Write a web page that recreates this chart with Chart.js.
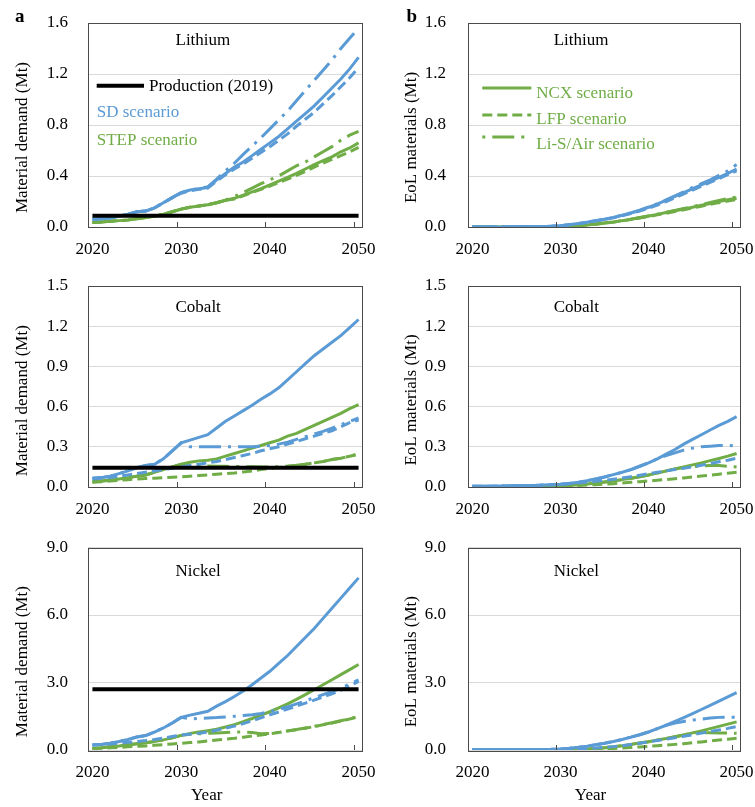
<!DOCTYPE html>
<html>
<head>
<meta charset="utf-8">
<script src="https://cdn.jsdelivr.net/npm/chart.js@4.4.1/dist/chart.umd.min.js"></script>
<style>
  html, body { margin: 0; padding: 0; background: #fff; }
  #fig { position: relative; width: 755px; height: 807px; overflow: hidden; }
  #fig canvas { position: absolute; }
</style>
</head>
<body>
<div id="fig">
  <canvas id="liDem" width="378" height="265" style="left:0;top:0"></canvas>
  <canvas id="liEoL" width="377" height="265" style="left:378px;top:0"></canvas>
  <canvas id="coDem" width="378" height="265" style="left:0;top:265px"></canvas>
  <canvas id="coEoL" width="377" height="265" style="left:378px;top:265px"></canvas>
  <canvas id="niDem" width="378" height="277" style="left:0;top:530px"></canvas>
  <canvas id="niEoL" width="377" height="277" style="left:378px;top:530px"></canvas>
</div>
<script>
// ---- categories and tick labels ----
const years = [2020,2021,2022,2023,2024,2025,2026,2027,2028,2029,2030,2031,2032,2033,2034,2035,
               2036,2037,2038,2039,2040,2041,2042,2043,2044,2045,2046,2047,2048,2049,2050];
const xTickYears = [2020, 2030, 2040, 2050];
const liTicks = [0, 0.4, 0.8, 1.2, 1.6];
const coTicks = [0, 0.3, 0.6, 0.9, 1.2, 1.5];
const niTicks = [0, 3, 6, 9];

// ---- 2019 primary production (Mt): Li, Co, Ni ----
const prod2019 = [0.088, 0.144, 2.70];

// ---- material demand (Mt), SD and STEP scenarios x NCX / LFP / Li-S/Air ----
const liDemSD_NCX   = [0.060,0.065,0.070,0.085,0.100,0.120,0.125,0.150,0.190,0.230,0.270,0.290,0.300,0.310,0.370,0.420,0.470,0.510,0.560,0.610,0.660,0.710,0.770,0.830,0.890,0.950,1.020,1.090,1.160,1.240,1.330];
const liDemSD_LFP   = [0.060,0.065,0.070,0.085,0.100,0.120,0.125,0.150,0.190,0.230,0.265,0.285,0.295,0.305,0.360,0.410,0.455,0.495,0.540,0.585,0.630,0.680,0.730,0.790,0.845,0.900,0.965,1.030,1.100,1.170,1.250];
const liDemSD_LiS   = [0.060,0.065,0.070,0.085,0.100,0.120,0.125,0.150,0.190,0.230,0.270,0.290,0.300,0.315,0.375,0.440,0.500,0.570,0.635,0.700,0.770,0.840,0.910,0.990,1.070,1.150,1.230,1.310,1.400,1.480,1.560];
const liDemSTEP_NCX = [0.035,0.040,0.045,0.050,0.055,0.065,0.075,0.085,0.100,0.120,0.140,0.155,0.165,0.175,0.190,0.210,0.225,0.250,0.275,0.300,0.330,0.360,0.390,0.420,0.455,0.490,0.520,0.550,0.590,0.620,0.660];
const liDemSTEP_LFP = [0.035,0.040,0.045,0.050,0.055,0.065,0.075,0.085,0.100,0.120,0.140,0.155,0.165,0.175,0.190,0.210,0.220,0.245,0.270,0.295,0.320,0.350,0.375,0.405,0.435,0.470,0.500,0.530,0.560,0.590,0.625];
const liDemSTEP_LiS = [0.035,0.040,0.045,0.050,0.055,0.065,0.075,0.085,0.100,0.120,0.140,0.155,0.165,0.175,0.190,0.210,0.240,0.270,0.305,0.340,0.370,0.400,0.440,0.480,0.510,0.550,0.590,0.630,0.680,0.720,0.750];

const coDemSD_NCX   = [0.065,0.070,0.080,0.100,0.120,0.145,0.160,0.170,0.210,0.270,0.330,0.350,0.370,0.390,0.440,0.490,0.530,0.570,0.610,0.655,0.695,0.740,0.800,0.860,0.920,0.980,1.030,1.080,1.130,1.190,1.250];
const coDemSD_LFP   = [0.060,0.065,0.070,0.080,0.090,0.100,0.110,0.120,0.130,0.140,0.150,0.160,0.170,0.180,0.190,0.205,0.220,0.235,0.250,0.270,0.285,0.300,0.320,0.340,0.360,0.380,0.400,0.420,0.450,0.480,0.500];
const coDemSD_LiS   = [0.065,0.070,0.080,0.100,0.120,0.145,0.160,0.170,0.210,0.270,0.330,0.300,0.300,0.300,0.300,0.300,0.300,0.300,0.300,0.305,0.310,0.320,0.335,0.355,0.375,0.395,0.415,0.440,0.465,0.490,0.515];
const coDemSTEP_NCX = [0.040,0.045,0.050,0.060,0.070,0.080,0.090,0.110,0.130,0.150,0.170,0.185,0.195,0.200,0.210,0.230,0.250,0.270,0.290,0.310,0.330,0.350,0.380,0.400,0.430,0.460,0.490,0.520,0.550,0.585,0.615];
const coDemSTEP_LFP = [0.035,0.040,0.045,0.050,0.055,0.060,0.063,0.066,0.070,0.073,0.076,0.080,0.085,0.090,0.095,0.100,0.105,0.112,0.120,0.130,0.140,0.145,0.150,0.160,0.170,0.180,0.190,0.205,0.215,0.230,0.245];
const coDemSTEP_LiS = [0.040,0.045,0.050,0.060,0.070,0.080,0.090,0.110,0.130,0.150,0.170,0.160,0.158,0.156,0.155,0.154,0.153,0.152,0.151,0.150,0.150,0.152,0.156,0.162,0.170,0.180,0.190,0.205,0.215,0.230,0.245];

const niDemSD_NCX   = [0.22,0.25,0.30,0.38,0.47,0.58,0.64,0.80,0.98,1.20,1.45,1.55,1.63,1.72,1.95,2.15,2.38,2.62,2.90,3.20,3.50,3.85,4.20,4.60,5.00,5.40,5.85,6.30,6.75,7.20,7.65];
const niDemSD_LFP   = [0.22,0.24,0.27,0.30,0.34,0.38,0.42,0.47,0.53,0.60,0.66,0.70,0.74,0.80,0.88,0.97,1.06,1.17,1.30,1.43,1.56,1.69,1.82,1.95,2.08,2.22,2.36,2.50,2.66,2.84,3.05];
const niDemSD_LiS   = [0.22,0.25,0.30,0.38,0.47,0.58,0.64,0.80,0.98,1.20,1.45,1.38,1.40,1.42,1.44,1.47,1.50,1.53,1.57,1.62,1.70,1.80,1.92,2.05,2.18,2.32,2.46,2.60,2.76,2.93,3.12];
const niDemSTEP_NCX = [0.07,0.10,0.14,0.18,0.23,0.28,0.32,0.38,0.45,0.54,0.65,0.74,0.80,0.86,0.92,1.02,1.13,1.26,1.40,1.55,1.70,1.87,2.05,2.25,2.46,2.68,2.90,3.12,3.35,3.57,3.80];
const niDemSTEP_LFP = [0.07,0.08,0.10,0.12,0.14,0.16,0.18,0.21,0.24,0.27,0.30,0.33,0.36,0.40,0.44,0.48,0.52,0.57,0.62,0.67,0.72,0.78,0.84,0.90,0.97,1.04,1.12,1.20,1.29,1.38,1.48];
const niDemSTEP_LiS = [0.07,0.10,0.14,0.18,0.23,0.28,0.32,0.38,0.45,0.54,0.65,0.70,0.72,0.74,0.76,0.78,0.80,0.80,0.78,0.72,0.74,0.79,0.85,0.91,0.98,1.05,1.13,1.21,1.30,1.39,1.49];

// ---- end-of-life materials (Mt) ----
const liEoLSD_NCX   = [0.000,0.000,0.000,0.000,0.001,0.001,0.002,0.003,0.004,0.006,0.010,0.018,0.027,0.038,0.050,0.060,0.075,0.092,0.110,0.130,0.155,0.180,0.210,0.240,0.270,0.300,0.330,0.360,0.390,0.420,0.455];
const liEoLSD_LFP   = [0.000,0.000,0.000,0.000,0.001,0.001,0.002,0.003,0.004,0.006,0.010,0.017,0.026,0.036,0.047,0.058,0.072,0.088,0.105,0.125,0.148,0.172,0.200,0.230,0.260,0.290,0.320,0.350,0.380,0.410,0.440];
const liEoLSD_LiS   = [0.000,0.000,0.000,0.000,0.001,0.001,0.002,0.003,0.004,0.006,0.010,0.018,0.027,0.038,0.050,0.061,0.076,0.093,0.111,0.132,0.157,0.183,0.213,0.244,0.276,0.310,0.340,0.370,0.405,0.440,0.490];
const liEoLSTEP_NCX = [0.000,0.000,0.000,0.000,0.000,0.001,0.001,0.001,0.002,0.002,0.003,0.006,0.010,0.016,0.023,0.031,0.040,0.050,0.061,0.073,0.086,0.099,0.113,0.127,0.141,0.155,0.170,0.185,0.200,0.213,0.225];
const liEoLSTEP_LFP = [0.000,0.000,0.000,0.000,0.000,0.001,0.001,0.001,0.002,0.002,0.003,0.006,0.010,0.015,0.022,0.030,0.038,0.048,0.058,0.070,0.082,0.095,0.108,0.121,0.135,0.149,0.163,0.177,0.191,0.203,0.215];
const liEoLSTEP_LiS = [0.000,0.000,0.000,0.000,0.000,0.001,0.001,0.001,0.002,0.002,0.003,0.006,0.010,0.016,0.023,0.031,0.040,0.050,0.061,0.074,0.087,0.101,0.115,0.130,0.145,0.160,0.176,0.192,0.208,0.222,0.235];

const coEoLSD_NCX   = [0.005,0.005,0.006,0.007,0.008,0.009,0.010,0.012,0.014,0.017,0.020,0.026,0.035,0.046,0.060,0.075,0.092,0.110,0.130,0.155,0.180,0.210,0.245,0.280,0.320,0.355,0.390,0.425,0.460,0.490,0.525];
const coEoLSD_LFP   = [0.005,0.005,0.006,0.007,0.008,0.009,0.010,0.012,0.014,0.017,0.020,0.025,0.030,0.036,0.043,0.050,0.058,0.067,0.077,0.088,0.100,0.110,0.120,0.130,0.140,0.150,0.162,0.175,0.188,0.200,0.215];
const coEoLSD_LiS   = [0.005,0.005,0.006,0.007,0.008,0.009,0.010,0.012,0.014,0.017,0.020,0.026,0.035,0.046,0.060,0.075,0.092,0.110,0.130,0.155,0.180,0.210,0.235,0.255,0.275,0.290,0.300,0.305,0.310,0.310,0.305];
const coEoLSTEP_NCX = [0.003,0.003,0.004,0.004,0.005,0.005,0.006,0.006,0.007,0.007,0.008,0.012,0.017,0.023,0.030,0.037,0.045,0.055,0.065,0.077,0.090,0.105,0.120,0.135,0.150,0.165,0.180,0.197,0.213,0.230,0.250];
const coEoLSTEP_LFP = [0.003,0.003,0.004,0.004,0.005,0.005,0.005,0.006,0.006,0.006,0.006,0.008,0.011,0.014,0.017,0.021,0.025,0.030,0.035,0.040,0.045,0.050,0.056,0.062,0.068,0.075,0.082,0.089,0.096,0.103,0.110];
const coEoLSTEP_LiS = [0.003,0.003,0.004,0.004,0.005,0.005,0.006,0.006,0.007,0.007,0.008,0.012,0.017,0.023,0.030,0.037,0.045,0.055,0.065,0.077,0.090,0.105,0.120,0.135,0.145,0.152,0.157,0.160,0.160,0.155,0.150];

const niEoLSD_NCX   = [0.02,0.02,0.02,0.02,0.02,0.02,0.02,0.02,0.02,0.03,0.05,0.08,0.12,0.17,0.23,0.30,0.38,0.47,0.57,0.68,0.80,0.95,1.10,1.27,1.44,1.62,1.80,1.98,2.17,2.36,2.55];
const niEoLSD_LFP   = [0.02,0.02,0.02,0.02,0.02,0.02,0.02,0.02,0.02,0.02,0.03,0.04,0.05,0.07,0.09,0.12,0.15,0.19,0.24,0.30,0.36,0.42,0.48,0.54,0.61,0.68,0.75,0.82,0.89,0.96,1.04];
const niEoLSD_LiS   = [0.02,0.02,0.02,0.02,0.02,0.02,0.02,0.02,0.02,0.03,0.05,0.08,0.12,0.17,0.23,0.30,0.38,0.47,0.57,0.68,0.80,0.95,1.10,1.20,1.27,1.33,1.37,1.42,1.45,1.46,1.45];
const niEoLSTEP_NCX = [0.01,0.01,0.01,0.01,0.01,0.01,0.01,0.01,0.01,0.01,0.01,0.02,0.035,0.05,0.07,0.10,0.14,0.19,0.25,0.31,0.37,0.44,0.51,0.59,0.67,0.76,0.85,0.95,1.05,1.15,1.25];
const niEoLSTEP_LFP = [0.01,0.01,0.01,0.01,0.01,0.01,0.01,0.01,0.01,0.01,0.01,0.015,0.02,0.03,0.04,0.055,0.07,0.09,0.11,0.135,0.16,0.19,0.22,0.25,0.28,0.32,0.36,0.40,0.44,0.48,0.52];
const niEoLSTEP_LiS = [0.01,0.01,0.01,0.01,0.01,0.01,0.01,0.01,0.01,0.01,0.01,0.02,0.035,0.05,0.07,0.10,0.14,0.19,0.25,0.31,0.37,0.44,0.51,0.59,0.67,0.76,0.77,0.77,0.76,0.75,0.74];

// ---- styling ----
const BLUE = '#5B9BD5', GREEN = '#70AD47', BLACK = '#000000';
const SOLID = [], DASH = [10, 5], DASHDOT = [22, 7, 3, 7];
const FONT = '"Liberation Serif", "Times New Roman", serif';
Chart.defaults.font.family = FONT;
Chart.defaults.font.size = 17;
Chart.defaults.color = '#000';

function line(label, data, color, dash, width) {
  return { label, data, borderColor: color, backgroundColor: color, borderWidth: width || 3,
           borderDash: dash, pointRadius: 0, fill: false, tension: 0 };
}

// frame, inner tick marks and all panel text
function decorPlugin(p) {
  return {
    id: 'decor',
    afterDraw(chart) {
      const ctx = chart.ctx, a = chart.chartArea, xs = chart.scales.x;
      const half = (xs.getPixelForValue(1) - xs.getPixelForValue(0)) / 2;
      ctx.save();
      ctx.strokeStyle = '#4a4a4a';
      ctx.lineWidth = 1;
      xTickYears.forEach(yr => {
        const i = years.indexOf(yr);
        if (i <= 0) return;
        const px = Math.round(xs.getPixelForValue(i) - half) + 0.5;
        ctx.beginPath(); ctx.moveTo(px, a.bottom); ctx.lineTo(px, a.bottom - 5); ctx.stroke();
      });
      ctx.strokeRect(Math.round(a.left) + 0.5, Math.round(a.top) + 0.5,
                     Math.round(a.right - a.left) - 1, Math.round(a.bottom - a.top));

      ctx.fillStyle = '#000';
      ctx.textBaseline = 'alphabetic';
      ctx.font = '17px ' + FONT;
      ctx.textAlign = 'left';
      ctx.fillText(p.name, p.nameX, p.nameY);

      // rotated axis title
      ctx.save();
      ctx.translate(p.yTitleX, p.yTitleY);
      ctx.rotate(-Math.PI / 2);
      ctx.textAlign = 'center';
      ctx.fillText(p.yTitle, 0, 0);
      ctx.restore();

      if (p.xTitle) {
        ctx.textAlign = 'center';
        ctx.fillText(p.xTitle, p.xTitleX, p.xTitleY);
      }
      if (p.letter) {
        ctx.textAlign = 'left';
        ctx.font = 'bold 19px ' + FONT;
        ctx.fillText(p.letter, p.letterX, 21.5);
        ctx.font = '17px ' + FONT;
      }
      if (p.legend) {
        ctx.textAlign = 'left';
        p.legend.forEach(item => {
          if (item.line) {
            ctx.save();
            ctx.strokeStyle = item.line.color;
            ctx.lineWidth = item.line.width;
            ctx.setLineDash(item.line.dash);
            ctx.beginPath();
            ctx.moveTo(item.line.x0, item.line.y); ctx.lineTo(item.line.x1, item.line.y);
            ctx.stroke();
            ctx.restore();
          }
          ctx.fillStyle = item.color;
          ctx.fillText(item.text, item.x, item.y);
        });
      }
      ctx.restore();
    }
  };
}

function makePanel(p) {
  const ds = [];
  if (p.prod !== undefined) ds.push(line('Production (2019)', years.map(() => p.prod), BLACK, SOLID, 4));
  ds.push(line('SD NCX', p.sd[0], BLUE, SOLID));
  ds.push(line('SD LFP', p.sd[1], BLUE, DASH));
  ds.push(line('SD Li-S/Air', p.sd[2], BLUE, DASHDOT));
  ds.push(line('STEP NCX', p.step[0], GREEN, SOLID));
  ds.push(line('STEP LFP', p.step[1], GREEN, DASH));
  ds.push(line('STEP Li-S/Air', p.step[2], GREEN, DASHDOT));

  new Chart(document.getElementById(p.id), {
    type: 'line',
    data: { labels: years.map(String), datasets: ds },
    options: {
      responsive: false, animation: false, events: [],
      layout: { padding: { left: 0, top: p.padTop, right: p.padRight, bottom: p.padBottom } },
      plugins: { legend: { display: false }, tooltip: { enabled: false } },
      scales: {
        x: {
          type: 'category', offset: true,
          grid: { display: false, drawTicks: false }, border: { display: false },
          ticks: {
            autoSkip: false, maxRotation: 0, minRotation: 0, padding: 12, color: '#000',
            callback: (v, i) => xTickYears.includes(years[i]) ? String(years[i]) : ''
          },
          afterFit: s => { s.height = 30; s.paddingLeft = 0; s.paddingRight = 0; }
        },
        y: {
          min: 0, max: p.ticks[p.ticks.length - 1],
          grid: { color: '#d9d9d9', lineWidth: 1, drawTicks: false }, border: { display: false },
          ticks: { padding: p.yPad, color: '#000', callback: v => Number(v).toFixed(1) },
          afterBuildTicks: s => { s.ticks = p.ticks.map(v => ({ value: v })); },
          afterFit: s => { s.width = p.yW; s.paddingTop = 0; s.paddingBottom = 0; }
        }
      }
    },
    plugins: [decorPlugin(p)]
  });
}

const leftCol  = { yW: 88, padRight: 15, yPad: 20, nameX: 175.5, yTitleX: 26.5, yTitle: 'Material demand (Mt)', xTitleX: 206.7 };
const rightCol = { yW: 90, padRight: 14, yPad: 22, nameX: 175.7, yTitleX: 37.9, yTitle: 'EoL materials (Mt)', xTitleX: 212.5 };

makePanel(Object.assign({}, leftCol, {
  id: 'liDem', name: 'Lithium', nameY: 45, yTitleY: 137.5, padTop: 23, padBottom: 8,
  ticks: liTicks, prod: prod2019[0],
  sd: [liDemSD_NCX, liDemSD_LFP, liDemSD_LiS], step: [liDemSTEP_NCX, liDemSTEP_LFP, liDemSTEP_LiS],
  letter: 'a', letterX: 15,
  legend: [
    { text: 'Production (2019)', x: 149, y: 91, color: '#000', line: { x0: 96.7, x1: 144, y: 85.7, color: BLACK, width: 4, dash: SOLID } },
    { text: 'SD scenario', x: 96.7, y: 117.3, color: BLUE },
    { text: 'STEP scenario', x: 96.7, y: 145, color: GREEN }
  ]
}));
makePanel(Object.assign({}, rightCol, {
  id: 'liEoL', name: 'Lithium', nameY: 44.5, yTitleY: 137.5, padTop: 23, padBottom: 8,
  ticks: liTicks,
  sd: [liEoLSD_NCX, liEoLSD_LFP, liEoLSD_LiS], step: [liEoLSTEP_NCX, liEoLSTEP_LFP, liEoLSTEP_LiS],
  letter: 'b', letterX: 28.5,
  legend: [
    { text: 'NCX scenario', x: 158.3, y: 97.5, color: GREEN, line: { x0: 104.3, x1: 153.3, y: 88, color: GREEN, width: 3, dash: SOLID } },
    { text: 'LFP scenario', x: 158.3, y: 124, color: GREEN, line: { x0: 104.3, x1: 153.3, y: 115, color: GREEN, width: 3, dash: DASH } },
    { text: 'Li-S/Air scenario', x: 158.3, y: 149.3, color: GREEN, line: { x0: 104.3, x1: 153.3, y: 137, color: GREEN, width: 3, dash: [3, 7, 22, 7] } }
  ]
}));
makePanel(Object.assign({}, leftCol, {
  id: 'coDem', name: 'Cobalt', nameY: 46.7, yTitleY: 135.7, padTop: 21, padBottom: 13,
  ticks: coTicks, prod: prod2019[1],
  sd: [coDemSD_NCX, coDemSD_LFP, coDemSD_LiS], step: [coDemSTEP_NCX, coDemSTEP_LFP, coDemSTEP_LiS]
}));
makePanel(Object.assign({}, rightCol, {
  id: 'coEoL', name: 'Cobalt', nameY: 46.7, yTitleY: 135, padTop: 21, padBottom: 13,
  ticks: coTicks,
  sd: [coEoLSD_NCX, coEoLSD_LFP, coEoLSD_LiS], step: [coEoLSTEP_NCX, coEoLSTEP_LFP, coEoLSTEP_LiS]
}));
makePanel(Object.assign({}, leftCol, {
  id: 'niDem', name: 'Nickel', nameY: 45.7, yTitleY: 131.7, padTop: 17.5, padBottom: 27,
  ticks: niTicks, prod: prod2019[2], xTitle: 'Year', xTitleY: 269.5,
  sd: [niDemSD_NCX, niDemSD_LFP, niDemSD_LiS], step: [niDemSTEP_NCX, niDemSTEP_LFP, niDemSTEP_LiS]
}));
makePanel(Object.assign({}, rightCol, {
  id: 'niEoL', name: 'Nickel', nameY: 45.7, yTitleY: 131.7, padTop: 17.5, padBottom: 27,
  ticks: niTicks, xTitle: 'Year', xTitleY: 269.5,
  sd: [niEoLSD_NCX, niEoLSD_LFP, niEoLSD_LiS], step: [niEoLSTEP_NCX, niEoLSTEP_LFP, niEoLSTEP_LiS]
}));
</script>
</body>
</html>
